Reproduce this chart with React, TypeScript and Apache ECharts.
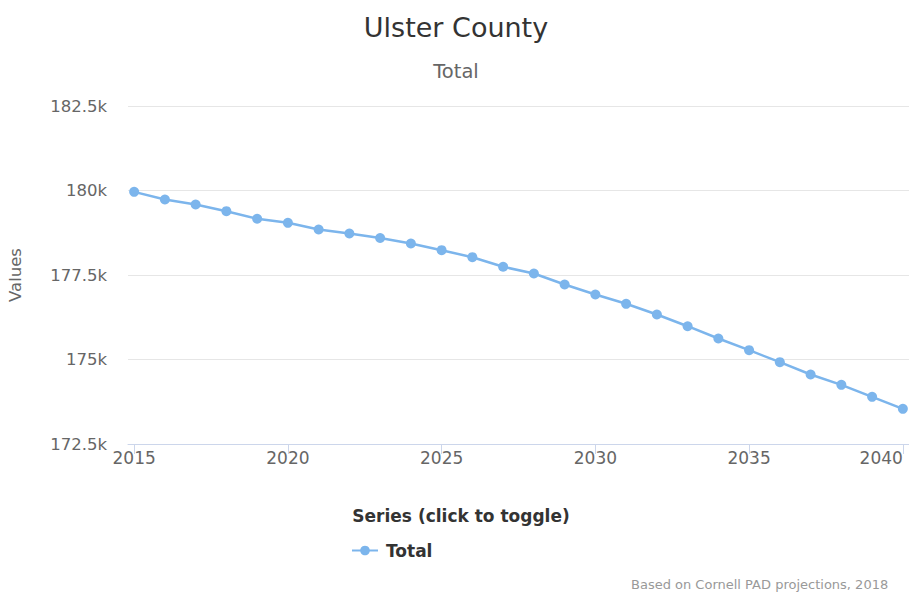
import React, { useEffect, useRef } from "react";
import * as echarts from "echarts";

const years = [2015, 2016, 2017, 2018, 2019, 2020, 2021, 2022, 2023, 2024, 2025, 2026, 2027, 2028, 2029, 2030, 2031, 2032, 2033, 2034, 2035, 2036, 2037, 2038, 2039, 2040];
const totals = [179960, 179734, 179586, 179388, 179163, 179044, 178846, 178728, 178595, 178432, 178234, 178027, 177743, 177544, 177219, 176923, 176648, 176331, 175985, 175621, 175275, 174920, 174556, 174251, 173896, 173541];
const xTickLabels = [2015, 2020, 2025, 2030, 2035, 2040];
const titleText = "Ulster County";
const subtitleText = "Total";
const seriesName = "Total";
const legendTitle = "Series (click to toggle)";
const creditText = "Based on Cornell PAD projections, 2018";
const yAxisName = "Values";

const FONT = "'DejaVu Sans', sans-serif";

export default function App() {
  const ref = useRef<HTMLDivElement>(null);
  useEffect(() => {
    if (!ref.current) return;
    const chart = echarts.init(ref.current, undefined, { renderer: "svg" });
    chart.setOption({
      animation: false,
      backgroundColor: "#ffffff",
      textStyle: { fontFamily: FONT },
      grid: { left: 128, right: 0, top: 106, bottom: 151, containLabel: false, outerBoundsMode: "none" },
      graphic: [
        { type: "text", position: [456, 27], style: { text: titleText, font: `27px ${FONT}`, fill: "#333333", textAlign: "center", textVerticalAlign: "middle" } },
        { type: "text", position: [456, 71], style: { text: subtitleText, font: `19.5px ${FONT}`, fill: "#666666", textAlign: "center", textVerticalAlign: "middle" } },
        { type: "text", position: [461, 516], style: { text: legendTitle, font: `bold 17px ${FONT}`, fill: "#333333", textAlign: "center", textVerticalAlign: "middle" } },
        { type: "text", position: [631, 584], style: { text: creditText, font: `13px ${FONT}`, fill: "#999999", textAlign: "left", textVerticalAlign: "middle" } },
      ],
      legend: {
        left: 346,
        top: 537,
        itemWidth: 26,
        itemHeight: 12,
        itemGap: 20,
        data: [seriesName],
        textStyle: { fontFamily: FONT, fontSize: 17, fontWeight: "bold", color: "#333333", padding: [0, 0, 0, 3] },
      },
      xAxis: {
        type: "value",
        min: 2014.8,
        max: 2040.2,
        axisLine: { show: true, lineStyle: { color: "#ccd6eb", width: 1 } },
        axisTick: { show: true, length: 10, lineStyle: { color: "#ccd6eb" }, customValues: xTickLabels },
        axisLabel: { color: "#666666", fontSize: 17, fontFamily: FONT, margin: 5, customValues: xTickLabels, alignMaxLabel: "right", formatter: (v: number) => String(v) },
        splitLine: { show: false },
      },
      yAxis: {
        type: "value",
        min: 172500,
        max: 182500,
        interval: 2500,
        name: yAxisName,
        nameLocation: "middle",
        nameGap: 104,
        nameRotate: 90,
        nameTextStyle: { color: "#666666", fontSize: 16.5, fontFamily: FONT },
        axisLine: { show: false },
        axisTick: { show: false },
        axisLabel: { color: "#666666", fontSize: 16.5, fontFamily: FONT, margin: 21, padding: [5, 0, 0, 0], formatter: (v: number) => `${v / 1000}k` },
        splitLine: { show: true, lineStyle: { color: "#e6e6e6", width: 1 } },
      },
      series: [
        {
          name: seriesName,
          type: "line",
          data: years.map((y, i) => [y, totals[i]]),
          symbol: "circle",
          symbolSize: 10,
          lineStyle: { color: "#7cb5ec", width: 2.5 },
          itemStyle: { color: "#7cb5ec" },
          clip: false,
        },
      ],
    });
    return () => chart.dispose();
  }, []);
  return <div ref={ref} style={{ position: "fixed", left: 0, top: 0, width: 909, height: 595 }} />;
}
